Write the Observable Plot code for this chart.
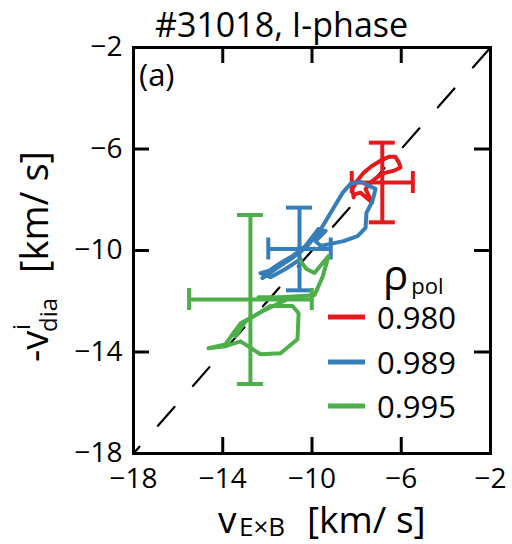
<!DOCTYPE html>
<html>
<head>
<meta charset="utf-8">
<script src="https://cdn.jsdelivr.net/npm/d3@7"></script>
<script src="https://cdn.jsdelivr.net/npm/@observablehq/plot@0.6"></script>
<style>
  html, body { margin: 0; padding: 0; background: white; }
  svg text { font-family: "Open Sans", sans-serif; }
</style>
</head>
<body>
<div id="chart"></div>
<script>
// ---- data ----
const xTicks = [-18, -14, -10, -6, -2];
const yTicks = [-18, -14, -10, -6, -2];
const seriesNames = ["0.980", "0.989", "0.995"];
const seriesColors = ["#e41a1c", "#377eb8", "#4daf4a"];

// error bars: center and half-widths
const barX    = [-6.85, -10.56, -12.76];
const barY    = [-7.32,  -9.94, -11.93];
const barXErr = [ 1.37,   1.40,   2.75];
const barYErr = [ 1.57,   1.63,   3.33];

// trajectories
const redX = [-8.13, -8.20, -7.97, -7.68, -7.30, -6.93, -6.56, -6.26, -6.11, -6.03, -6.33, -6.70, -7.00, -7.38, -7.60, -7.45, -7.30, -7.83, -8.05];
const redY = [-7.91, -7.58, -7.25, -6.93, -6.66, -6.46, -6.31, -6.31, -6.53, -6.73, -6.86, -6.93, -7.06, -7.32, -7.58, -7.85, -8.11, -7.72, -7.78];

const blueX = [-12.22, -11.64, -10.96, -10.29, -9.71, -9.17, -8.63, -8.27, -7.83, -7.15, -7.29, -7.56, -7.60, -7.96, -8.59, -9.17, -9.62, -9.84, -9.39, -9.71, -10.29, -10.87, -11.41, -11.95, -12.31, -11.86, -11.19, -10.51];
const blueY = [-11.09, -10.73, -10.34, -9.90, -9.31, -8.52, -7.73, -7.37, -7.29, -7.57, -8.05, -8.52, -9.11, -9.43, -9.63, -9.74, -9.82, -9.63, -9.23, -9.15, -9.82, -10.22, -10.49, -10.81, -10.89, -11.05, -10.73, -10.34];

const greenX = [-10.51, -10.25, -9.89, -9.26, -9.53, -9.89, -11.41, -12.40, -11.19, -12.22, -13.20, -13.56, -13.88, -14.64, -13.88, -13.20, -12.31, -11.41, -10.65, -10.60, -10.87, -11.86, -12.98, -13.43];
const greenY = [-10.42, -10.73, -10.89, -10.22, -11.05, -11.76, -11.84, -11.84, -11.96, -12.39, -12.87, -13.30, -13.70, -13.85, -13.77, -13.58, -14.09, -14.05, -13.50, -12.47, -12.19, -12.19, -12.79, -13.38];

// ---- build tables ----
const trajX = [redX, blueX, greenX];
const trajY = [redY, blueY, greenY];
const traj = seriesNames.flatMap((s, k) => trajX[k].map((x, i) => ({series: s, x, y: trajY[k][i]})));
const bars = seriesNames.map((s, k) => ({series: s, x: barX[k], y: barY[k], xe: barXErr[k], ye: barYErr[k]}));

// ---- layout ----
const W = 512, H = 544;
const mL = 133, mR = 22, mT = 47, mB = 91;
const xDom = [-18, -2], yDom = [-18, -2];
const xPerPx = (xDom[1] - xDom[0]) / (W - mL - mR);
const yPerPx = (yDom[1] - yDom[0]) / (H - mT - mB);
const tickLen = 16;
const capX = 13 * xPerPx, capY = 11 * yPerPx;

const color = {domain: seriesNames, range: seriesColors};

const marks = [
  Plot.line([[xDom[0], yDom[0]], [xDom[1], yDom[1]]], {stroke: "black", strokeWidth: 2.2, strokeDasharray: "25,28", strokeDashoffset: 16}),
];
seriesNames.forEach((s, k) => {
  const b = bars.filter(d => d.series === s);
  const t = traj.filter(d => d.series === s);
  const c = seriesColors[k];
  marks.push(
    Plot.ruleX(b, {x: "x", y1: d => d.y - d.ye, y2: d => d.y + d.ye, stroke: c, strokeWidth: 4}),
    Plot.ruleY(b, {y: "y", x1: d => d.x - d.xe, x2: d => d.x + d.xe, stroke: c, strokeWidth: 4}),
    Plot.ruleY(b, {y: d => d.y + d.ye, x1: d => d.x - capX, x2: d => d.x + capX, stroke: c, strokeWidth: 4}),
    Plot.ruleY(b, {y: d => d.y - d.ye, x1: d => d.x - capX, x2: d => d.x + capX, stroke: c, strokeWidth: 4}),
    Plot.ruleX(b, {x: d => d.x + d.xe, y1: d => d.y - capY, y2: d => d.y + capY, stroke: c, strokeWidth: 4}),
    Plot.ruleX(b, {x: d => d.x - d.xe, y1: d => d.y - capY, y2: d => d.y + capY, stroke: c, strokeWidth: 4}),
    Plot.line(t, {x: "x", y: "y", stroke: c, strokeWidth: 4, strokeLinejoin: "round", strokeLinecap: "round"})
  );
});
// inner ticks on all four sides
const innerX = xTicks.slice(1, -1), innerY = yTicks.slice(1, -1);
marks.push(
  Plot.ruleX(innerX, {x: d => d, y1: yDom[0], y2: yDom[0] + tickLen * yPerPx, stroke: "black", strokeWidth: 3}),
  Plot.ruleX(innerX, {x: d => d, y1: yDom[1], y2: yDom[1] - tickLen * yPerPx, stroke: "black", strokeWidth: 3}),
  Plot.ruleY(innerY, {y: d => d, x1: xDom[0], x2: xDom[0] + tickLen * xPerPx, stroke: "black", strokeWidth: 3}),
  Plot.ruleY(innerY, {y: d => d, x1: xDom[1], x2: xDom[1] - tickLen * xPerPx, stroke: "black", strokeWidth: 3}),
  Plot.frame({stroke: "black", strokeWidth: 3}),
  Plot.axisX({ticks: xTicks, tickSize: 0, tickPadding: 15, fontSize: 28, label: null}),
  Plot.axisY({ticks: yTicks, tickSize: 0, tickPadding: 11, fontSize: 28, label: null})
);

const svg = Plot.plot({
  width: W, height: H,
  marginLeft: mL, marginRight: mR, marginTop: mT, marginBottom: mB,
  x: {domain: xDom}, y: {domain: yDom},
  color,
  style: {fontFamily: "'Open Sans', sans-serif", fontSize: "28px", background: "white", color: "black"},
  marks
});
document.getElementById("chart").appendChild(svg);

// ---- annotations ----
const s = d3.select(svg);
const ff = "'Open Sans', sans-serif";
const ann = s.append("g").attr("text-anchor", "start").attr("font-family", ff).attr("fill", "black");
ann.append("text").attr("x", 155).attr("y", 37).attr("font-size", 34).text("#31018, I-phase");
ann.append("text").attr("x", 139).attr("y", 86).attr("font-size", 31).text("(a)");

// x label
const xl = ann.append("text");
xl.append("tspan").attr("x", 218).attr("y", 533).attr("font-size", 37).text("v");
xl.append("tspan").attr("x", 239).attr("y", 536).attr("font-size", 26).text("E×B");
xl.append("tspan").attr("x", 307).attr("y", 533).attr("font-size", 37).text("[km/ s]");

// y label (rotated)
const yl = ann.append("g").attr("transform", "translate(48,362) rotate(-90)");
yl.append("text").attr("x", 0).attr("y", 0).attr("font-size", 38).text("-v");
yl.append("text").attr("x", 32).attr("y", -18).attr("font-size", 24).text("i");
yl.append("text").attr("x", 30).attr("y", 9).attr("font-size", 24).text("dia");
yl.append("text").attr("x", 89).attr("y", 0).attr("font-size", 38).text("[km/ s]");

// legend
const rt = ann.append("text").attr("x", 383).attr("y", 290);
rt.append("tspan").attr("font-size", 42).text("ρ");
rt.append("tspan").attr("font-size", 22).attr("dx", 3).attr("dy", 4).text("pol");
const ly = [317, 362, 406];
seriesNames.forEach((n, k) => {
  ann.append("line").attr("x1", 328).attr("x2", 365).attr("y1", ly[k]).attr("y2", ly[k]).attr("stroke", seriesColors[k]).attr("stroke-width", 5);
  ann.append("text").attr("x", 377).attr("y", ly[k] + 12).attr("font-size", 31).text(n);
});
</script>
</body>
</html>
